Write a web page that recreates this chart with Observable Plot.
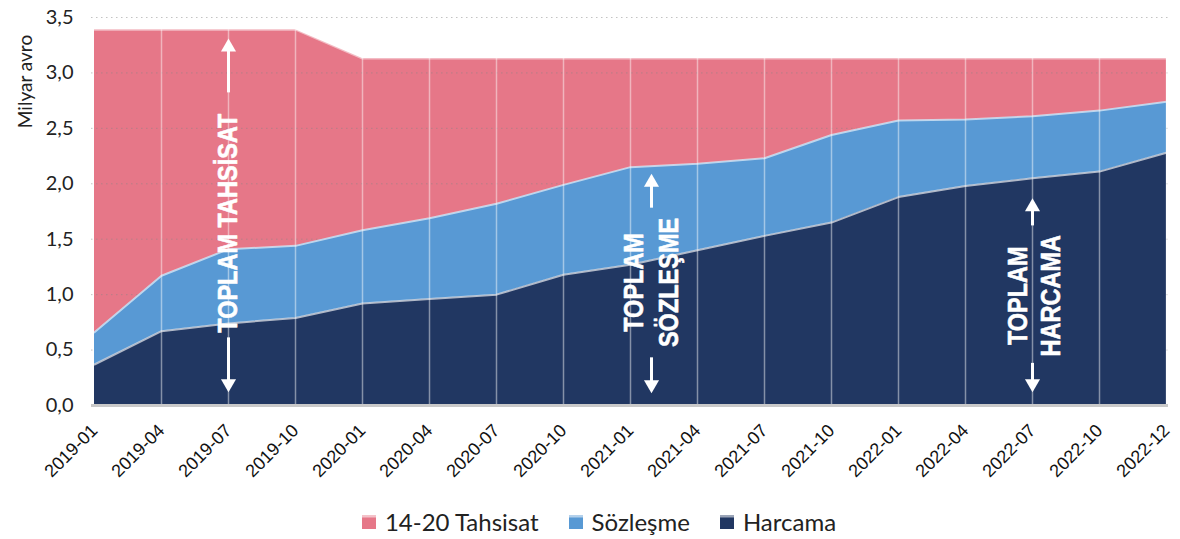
<!DOCTYPE html>
<html><head><meta charset="utf-8">
<script src="https://cdn.jsdelivr.net/npm/d3@7"></script>
<script src="https://cdn.jsdelivr.net/npm/@observablehq/plot@0.6"></script>
<style>
body{margin:0;background:#fff;font-family:Lato,sans-serif;}
#legend{display:flex;justify-content:center;gap:30px;font-size:24px;color:#222;margin-top:18px;line-height:28px;padding-left:18px;}
#legend span.item{display:flex;align-items:center;}
#legend .sw{display:inline-block;width:14px;height:14px;margin-right:9px;}
</style></head><body><div id="chart"></div><div id="legend"></div>
<script>
const months = ["2019-01","2019-04","2019-07","2019-10","2020-01","2020-04","2020-07","2020-10","2021-01","2021-04","2021-07","2021-10","2022-01","2022-04","2022-07","2022-10","2022-12"];
const allocation = [3.39,3.39,3.39,3.39,3.13,3.13,3.13,3.13,3.13,3.13,3.13,3.13,3.13,3.13,3.13,3.13,3.13];
const contracts  = [0.66,1.17,1.41,1.44,1.58,1.69,1.82,1.99,2.15,2.18,2.23,2.44,2.57,2.58,2.61,2.66,2.74];
const spending   = [0.37,0.67,0.74,0.79,0.92,0.96,1.00,1.18,1.27,1.40,1.53,1.65,1.88,1.98,2.05,2.11,2.28];
const seriesNames  = ["14-20 Tahsisat","Sözleşme","Harcama"];
const seriesColors = ["#E67788","#5899D4","#213762"];
const yTicks = [0,0.5,1,1.5,2,2.5,3,3.5];

// annotation labels (vertical) and arrows
const labels = [
  {month:"2019-07", y:1.645, dx:0,   text:"TOPLAM TAHSİSAT"},
  {month:"2021-01", y:1.11,  dx:4,   text:"TOPLAM"},
  {month:"2021-01", y:1.11,  dx:39,  text:"SÖZLEŞME"},
  {month:"2022-07", y:0.99,  dx:-14, text:"TOPLAM"},
  {month:"2022-07", y:0.99,  dx:19,  text:"HARCAMA"}
];
const arrows = [
  {month:"2019-07", dx:0,  base:2.82, tip:3.31, dir:1},
  {month:"2019-07", dx:0,  base:0.61, tip:0.12, dir:-1},
  {month:"2021-01", dx:21, base:1.78, tip:2.09, dir:1},
  {month:"2021-01", dx:21, base:0.43, tip:0.11, dir:-1},
  {month:"2022-07", dx:0,  base:1.62, tip:1.87, dir:1},
  {month:"2022-07", dx:0,  base:0.38, tip:0.12, dir:-1}
];

const rows = months.map((m,i)=>({month:m, allocation:allocation[i], contracts:contracts[i], spending:spending[i]}));
const fmt = d => d.toFixed(1).replace(".", ",");

const annotFont = "Liberation Sans, Arial, sans-serif";

const chart = Plot.plot({
  width: 1180,
  height: 490,
  marginLeft: 91,
  marginRight: 12,
  marginTop: 17,
  marginBottom: 85,
  style: {fontFamily: "Lato, sans-serif", background: "#fff"},
  x: {type: "point", domain: months, padding: 0, label: null},
  y: {domain: [0, 3.5], label: null},
  marks: [
    Plot.areaY(rows, {x:"month", y:"allocation", fill: seriesColors[0], curve:"linear"}),
    Plot.ruleY(yTicks.filter(d => d > 0), {stroke:"#888", strokeOpacity:0.5, strokeDasharray:"1.5,3.5"}),
    Plot.areaY(rows, {x:"month", y:"contracts", fill: seriesColors[1]}),
    Plot.areaY(rows, {x:"month", y:"spending", fill: seriesColors[2]}),
    Plot.ruleX(rows.slice(1), {x:"month", y1:0, y2:"allocation", stroke:"white", strokeOpacity:0.45, strokeWidth:1.5}),
    Plot.lineY(rows, {x:"month", y:"allocation", stroke:"white", strokeOpacity:0.5, strokeWidth:2}),
    Plot.lineY(rows, {x:"month", y:"contracts", stroke:"white", strokeOpacity:0.6, strokeWidth:2}),
    Plot.lineY(rows, {x:"month", y:"spending", stroke:"white", strokeOpacity:0.65, strokeWidth:2}),
    Plot.ruleY([0], {stroke:"#c9c9c9", strokeWidth:3}),
    ...arrows.map(a => Plot.ruleX([a], {x:"month", y1:"base", y2: d => d.tip - d.dir*0.06, dx:a.dx, stroke:"white", strokeWidth:3})),
    ...arrows.map(a => Plot.dot([a], {x:"month", y:"tip", dx:a.dx, dy: a.dir > 0 ? 8.7 : -8.7, symbol:"triangle", r:5.6, fill:"white", stroke:"none", rotate: a.dir > 0 ? 0 : 180})),
    ...labels.map(l => Plot.text([l], {x:"month", y:"y", dx:l.dx, text:"text", rotate:-90, fill:"white", stroke:"white", strokeWidth:0.6, fontSize:27, fontWeight:"bold", fontFamily: annotFont})),
    Plot.axisX({tickRotate:-45, tickSize:0, tickPadding:22, fontSize:18, fontFamily:"Liberation Sans, Arial, sans-serif", fill:"#111", label:null}),
    Plot.axisY({ticks:yTicks, tickFormat:fmt, tickSize:0, tickPadding:18, fontSize:20, fill:"#222", label:null}),
    Plot.text(["Milyar avro"], {frameAnchor:"top-left", dx:-73, dy:64, rotate:-90, fontSize:19, fill:"#222", textAnchor:"middle"})
  ]
});
document.getElementById("chart").appendChild(chart);
d3.select(chart).selectAll('g[aria-label="x-axis tick label"] text')
  .attr("font-size", 18).style("font-size", "18px").attr("font-family", "Liberation Sans, Arial, sans-serif");
// condense the annotation lettering along its reading direction
const annotTexts = new Set(labels.map(l => l.text));
d3.select(chart).selectAll("text")
  .filter(function() { return annotTexts.has(this.textContent); })
  .each(function() {
    const L = this.getComputedTextLength();
    this.setAttribute("textLength", (L * 0.87).toFixed(1));
    this.setAttribute("lengthAdjust", "spacingAndGlyphs");
  });

const legend = document.getElementById("legend");
seriesNames.forEach((n,i) => {
  const it = document.createElement("span");
  it.className = "item";
  const sw = document.createElement("span");
  sw.className = "sw";
  sw.style.background = `linear-gradient(rgba(255,255,255,0.55) 0, rgba(255,255,255,0.55) 2px, ${seriesColors[i]} 3px)`;
  sw.style.backgroundColor = seriesColors[i];
  it.appendChild(sw);
  it.appendChild(document.createTextNode(n));
  legend.appendChild(it);
});
</script></body></html>
